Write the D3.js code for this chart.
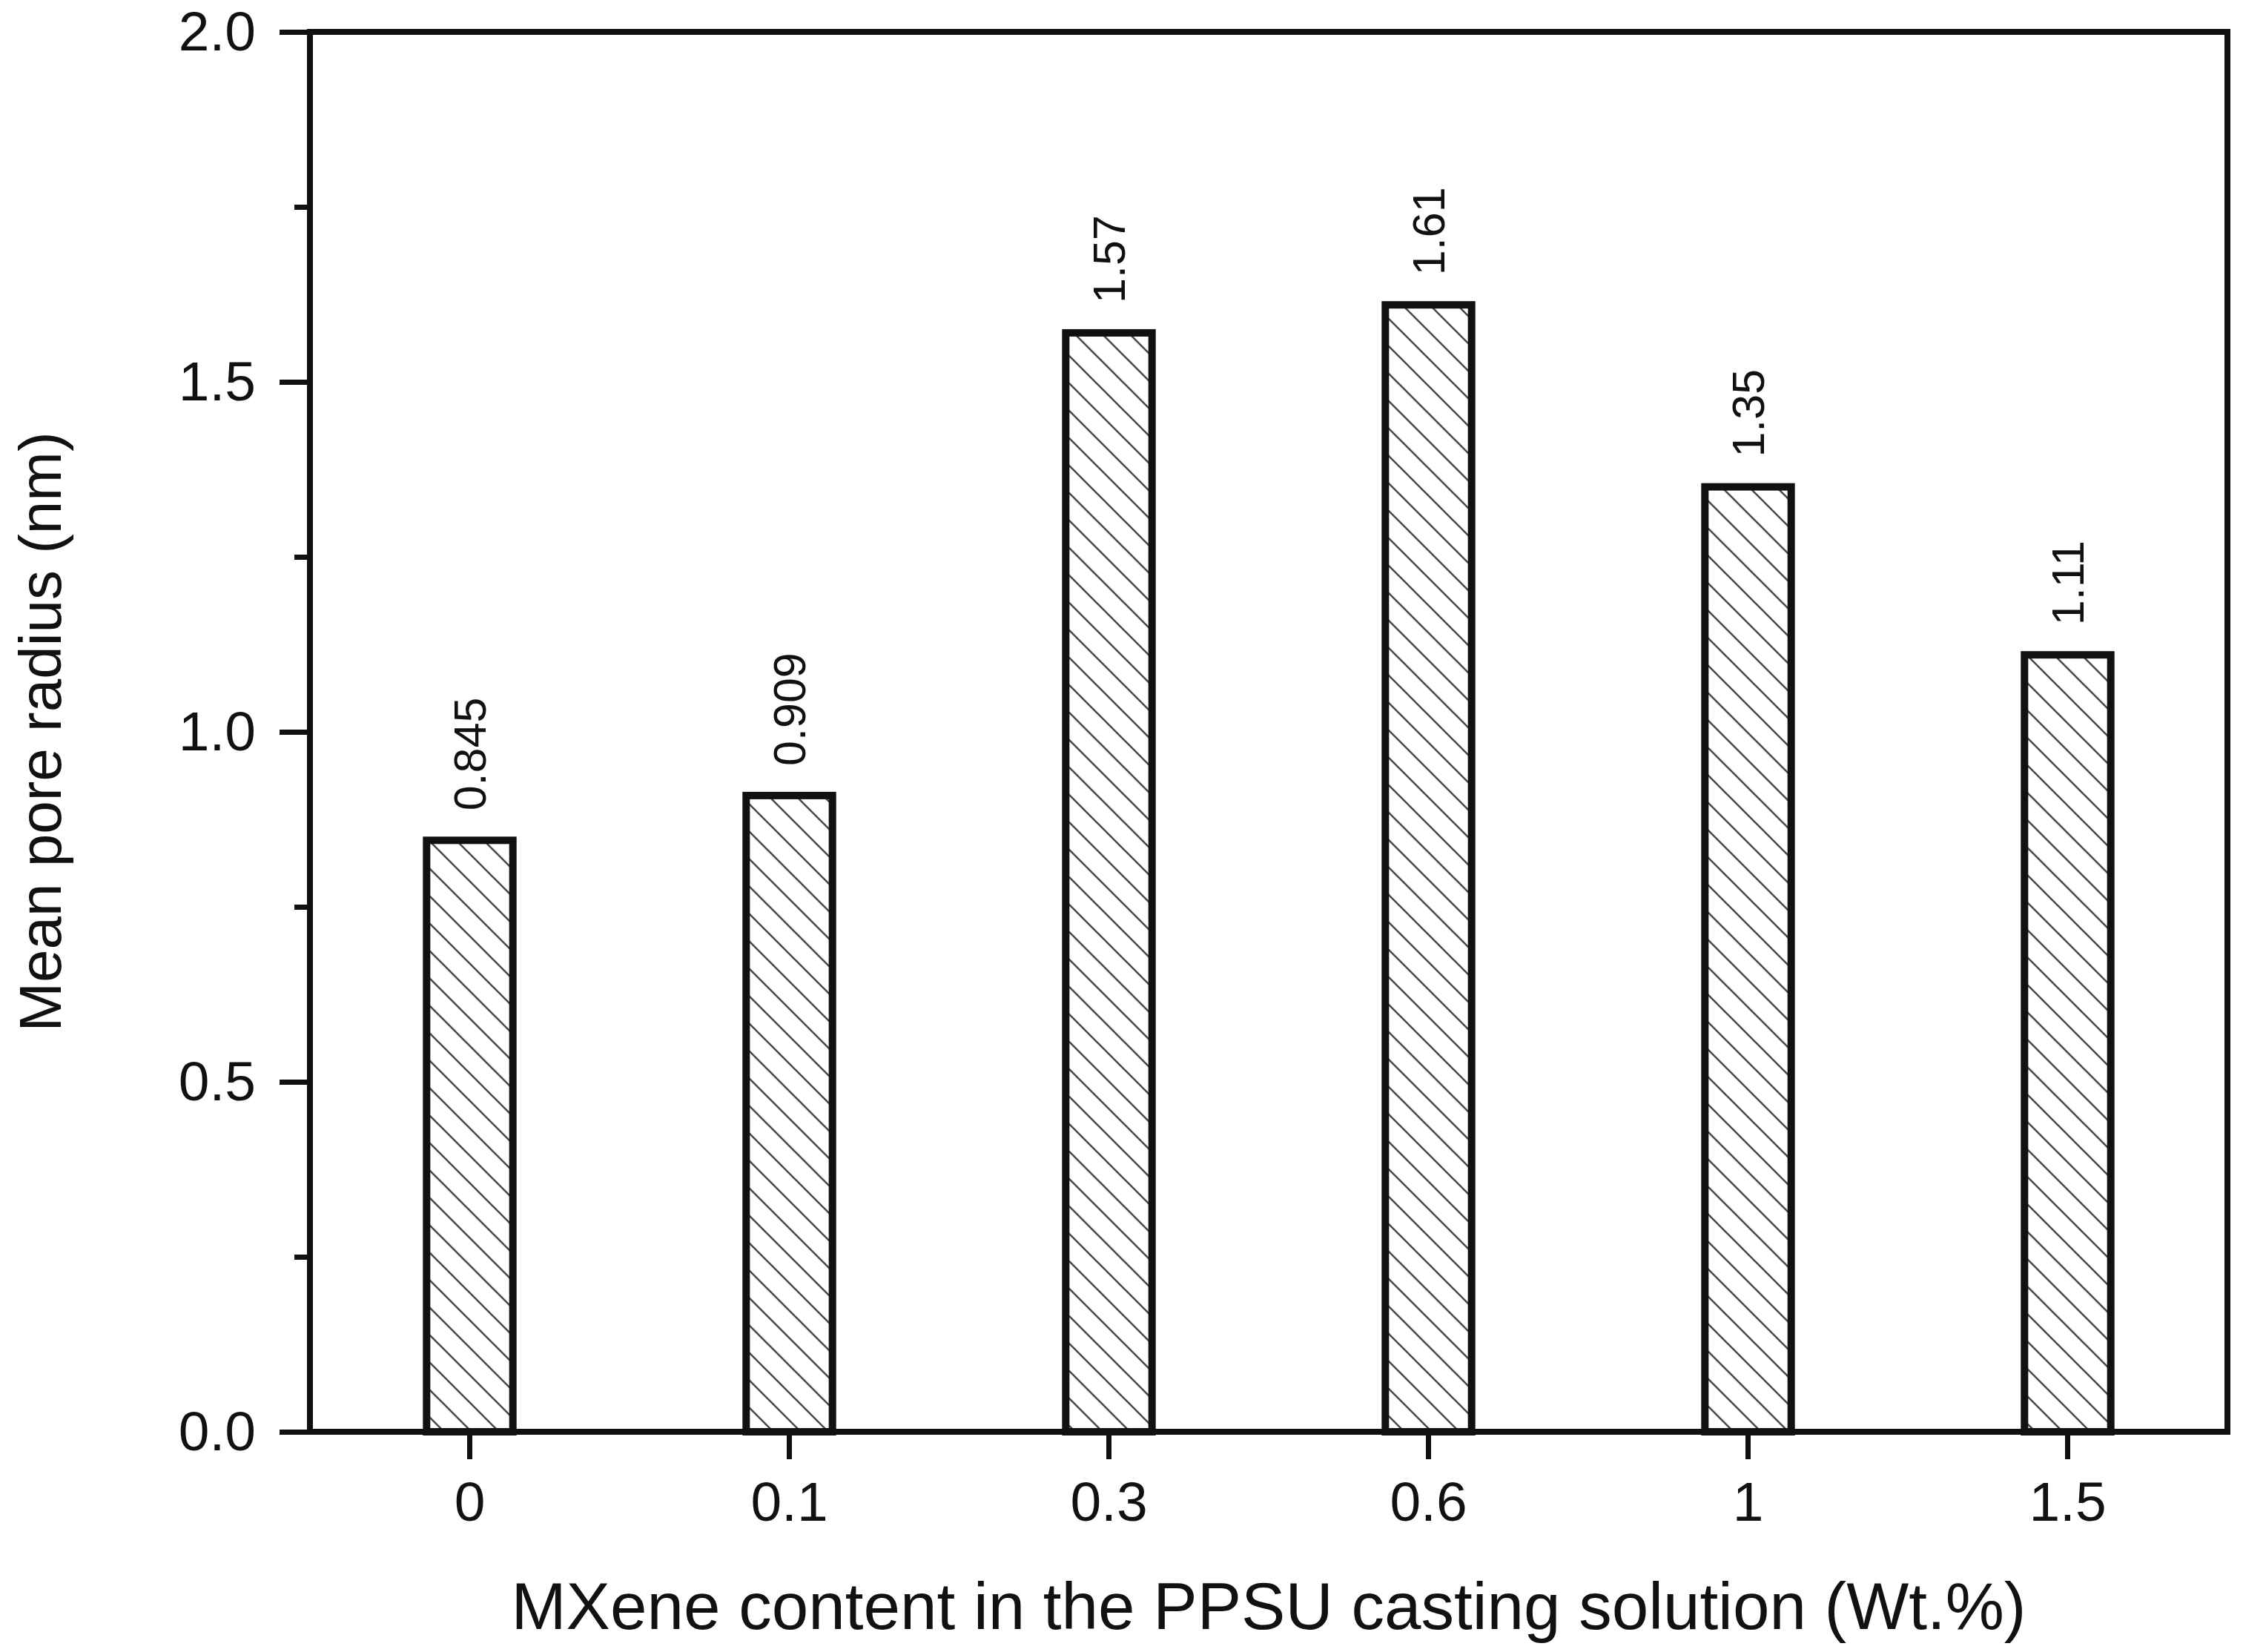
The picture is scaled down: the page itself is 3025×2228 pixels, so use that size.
<!DOCTYPE html>
<html><head><meta charset="utf-8">
<script src="https://cdn.jsdelivr.net/npm/d3@7"></script>
<style>html,body{margin:0;padding:0;background:#fff;} svg{display:block;}</style>
</head><body>
<script>
const categories = ["0", "0.1", "0.3", "0.6", "1", "1.5"];
const values = [0.845, 0.909, 1.57, 1.61, 1.35, 1.11];
const valueLabels = ["0.845", "0.909", "1.57", "1.61", "1.35", "1.11"];
const yTicks = [0, 0.5, 1.0, 1.5, 2.0];
const yMinorTicks = [0.25, 0.75, 1.25, 1.75];
const xTitle = "MXene content in the PPSU casting solution (Wt.%)";
const yTitle = "Mean pore radius (nm)";

const W = 3025, H = 2228;
const m = {left: 418, right: 3004, top: 43, bottom: 1931};
const FONT = "'Liberation Sans', Arial, sans-serif";

const svg = d3.select("body").append("svg")
  .attr("width", W).attr("height", H)
  .style("font-family", FONT);
svg.append("rect").attr("width", W).attr("height", H).attr("fill", "#fff");

const x = d3.scaleBand().domain(categories).range([m.left, m.right]).padding(0);
const y = d3.scaleLinear().domain([0, 2]).range([m.bottom, m.top]);
const barW = x.bandwidth() * 0.27;

// hatch pattern
const defs = svg.append("defs");
const pat = defs.append("pattern").attr("id", "hatch")
  .attr("patternUnits", "userSpaceOnUse").attr("width", 37).attr("height", 37);
pat.append("rect").attr("width", 37).attr("height", 37).attr("fill", "#fff");
pat.append("path").attr("d", "M-10,-10L47,47M-10,27L10,47M27,-10L47,10")
  .attr("stroke", "#4a4a4a").attr("stroke-width", 2.6).attr("fill", "none");

// bars
const data = categories.map((c, i) => ({c, v: values[i], label: valueLabels[i]}));
svg.append("g").selectAll("rect").data(data).join("rect")
  .attr("x", d => x(d.c) + x.bandwidth() / 2 - barW / 2)
  .attr("y", d => y(d.v))
  .attr("width", barW)
  .attr("height", d => y(0) - y(d.v))
  .attr("fill", "url(#hatch)")
  .attr("stroke", "#111").attr("stroke-width", 10);

// value labels
svg.append("g").selectAll("text").data(data).join("text")
  .attr("transform", d => `translate(${x(d.c) + x.bandwidth() / 2},${y(d.v) - 40}) rotate(-90)`)
  .attr("text-anchor", "start")
  .attr("dominant-baseline", "central")
  .attr("font-size", 61)
  .attr("fill", "#111")
  .text(d => d.label);

// axes
const yAxis = svg.append("g").attr("transform", `translate(${m.left},0)`)
  .call(d3.axisLeft(y).tickValues(yTicks).tickFormat(d3.format(".1f")).tickSize(41).tickPadding(32));
const yMinor = svg.append("g").attr("transform", `translate(${m.left},0)`)
  .call(d3.axisLeft(y).tickValues(yMinorTicks).tickFormat("").tickSize(21));
const xAxis = svg.append("g").attr("transform", `translate(0,${m.bottom})`)
  .call(d3.axisBottom(x).tickSize(37).tickPadding(30));

[yAxis, yMinor, xAxis].forEach(g => {
  g.select(".domain").remove();
  g.selectAll(".tick line").attr("stroke", "#111").attr("stroke-width", 7);
  g.selectAll(".tick text").attr("font-size", 75).attr("fill", "#111").style("font-family", FONT);
});

// frame
svg.append("rect")
  .attr("x", m.left).attr("y", m.top)
  .attr("width", m.right - m.left).attr("height", m.bottom - m.top)
  .attr("fill", "none").attr("stroke", "#111").attr("stroke-width", 8);

// titles
svg.append("text")
  .attr("x", (m.left + m.right) / 2).attr("y", 2197)
  .attr("text-anchor", "middle").attr("font-size", 89).attr("fill", "#111")
  .text(xTitle);
svg.append("text")
  .attr("transform", `translate(82,${(m.top + m.bottom) / 2}) rotate(-90)`)
  .attr("text-anchor", "middle").attr("font-size", 80).attr("fill", "#111")
  .text(yTitle);
</script>
</body></html>
